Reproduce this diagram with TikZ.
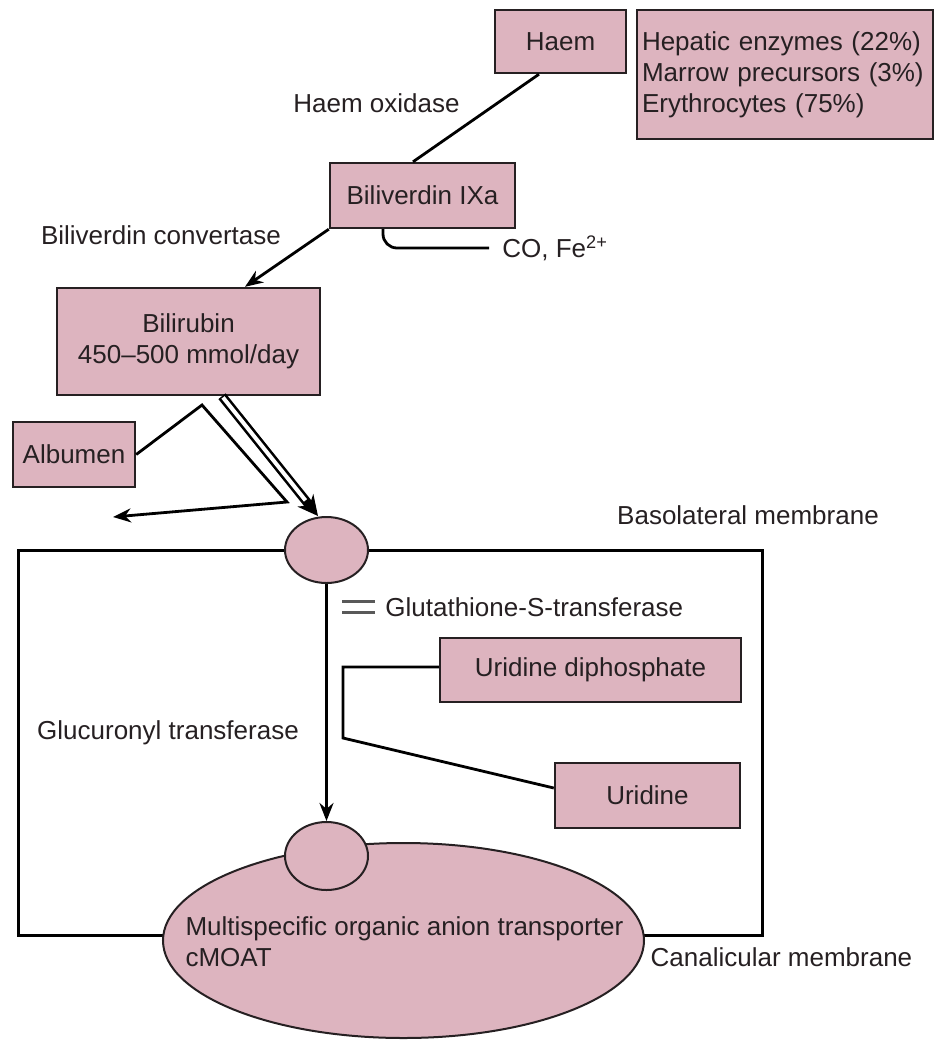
\documentclass[tikz,border=0pt]{standalone}
\usepackage{fontspec}
\setmainfont{Liberation Sans}
\usetikzlibrary{positioning,arrows.meta,shapes.geometric}

\definecolor{boxpink}{RGB}{221,180,191}
\definecolor{inkgray}{RGB}{38,32,34}

\newcommand{\eqbars}{{\color{black!65}\rlap{\rule[6.75pt]{16.5pt}{1.4pt}}\rule[1.25pt]{16.5pt}{1.4pt}}}

\tikzset{
  box/.style={draw=inkgray, fill=boxpink, line width=1.2pt, inner sep=0pt, text=inkgray},
  blob/.style={ellipse, draw=inkgray, fill=boxpink, line width=1pt, inner sep=0pt},
  lbl/.style={text=inkgray, inner sep=0pt},
  conn/.style={draw=black, line width=1.4pt},
  arrowed/.style={-{Stealth[length=9pt,width=7pt]}},
}

\begin{document}
\begin{tikzpicture}[x=0.5pt,y=-0.5pt,font=\fontsize{13}{15.5}\selectfont]

  \useasboundingbox (0,0) rectangle (934,1041);

  % cell membranes
  \draw[line width=1.5pt] (18,550) rectangle (762,935);

  \node[box] (haem) [at={(560.5,41.5)}, minimum width=65.5pt, minimum height=31.5pt] {Haem};
  \node[box] (src) [at={(785,74.5)}, minimum height=64.5pt, text width=143pt, inner xsep=2.5pt, align=left] {Hepatic enzymes (22\%)\\Marrow precursors (3\%)\\Erythrocytes (75\%)};
  \node[box] (bv) [at={(422.5,195.5)}, minimum width=92.5pt, minimum height=32.5pt] {Biliverdin IXa};
  \node[box] (br) [at={(188.5,341.5)}, minimum width=131.5pt, minimum height=53.5pt, align=center] {Bilirubin\\450--500 mmol/day};
  \node[box] (alb) [at={(74,454.5)}, minimum width=61pt, minimum height=32.5pt] {Albumen};
  \node[box] (udp) [at={(590.5,670)}, minimum width=150.5pt, minimum height=32pt] {Uridine diphosphate};
  \node[box] (uri) [at={(647.5,795.5)}, minimum width=92.5pt, minimum height=32.5pt] {Uridine};

  % transporters
  \node[blob] (cmoat) [at={(403.5,940.5)}, minimum width=240.5pt, minimum height=97.5pt] {};
  \node[lbl, align=left] (cmoattxt) [at={(404.5,942)}] {Multispecific organic anion transporter\\cMOAT};
  \node[blob] (bl) [at={(326.5,550)}, minimum width=41.5pt, minimum height=33pt] {};
  \node[blob] (cn) [at={(326.5,856)}, minimum width=41.5pt, minimum height=34pt] {};

  % labels
  \node[lbl] (hox) [at={(376.5,103)}] {Haem oxidase};
  \node[lbl] (bvc) [at={(161,235)}] {Biliverdin convertase};
  \node[lbl, anchor=west] (co) [at={(502,248)}] {CO, Fe\textsuperscript{2+}};
  \node[lbl] (baso) [at={(748,515)}] {Basolateral membrane};
  \node[lbl, anchor=west] (gst) [at={(342,607)}] {\eqbars\hspace{5pt}Glutathione-S-transferase};
  \node[lbl] (glt) [at={(168,733)}] {Glucuronyl transferase};
  \node[lbl] (canal) [at={(781.5,957)}] {Canalicular membrane};

  \coordinate (albpeak) at (202,405);
  \coordinate (albturn) at (287,502);
  \coordinate (albend) at (113,517);
  \coordinate (udpa) at (343,667);
  \coordinate (udpb) at (343,738);

  \draw[conn] ([xshift=-10.75pt]haem.south) -- ([xshift=-4.75pt]bv.north);
  \draw[conn, arrowed] (bv.south west) -- ([xshift=28.25pt]br.north);
  \draw[conn, rounded corners=7pt] ([xshift=-19.75pt]bv.south) |- ([xshift=-6.5pt]co.west);

  \draw[line width=4.6pt, -{Stealth[length=10pt,width=10pt]}] ([xshift=16.75pt]br.south) -- ([xshift=-4.25pt]bl.north);
  \draw[white, line width=2pt, shorten <=0.8pt, shorten >=10pt] ([xshift=16.75pt]br.south) -- ([xshift=-4.25pt]bl.north);

  \draw[conn, arrowed] (alb.east) -- (albpeak) -- (albturn) -- (albend);
  \draw[conn, arrowed] (bl.south) -- (cn.north);
  \draw[conn] ([yshift=1.5pt]udp.west) -- (udpa) -- (udpb) -- ([yshift=3.75pt]uri.west);

\end{tikzpicture}
\end{document}
